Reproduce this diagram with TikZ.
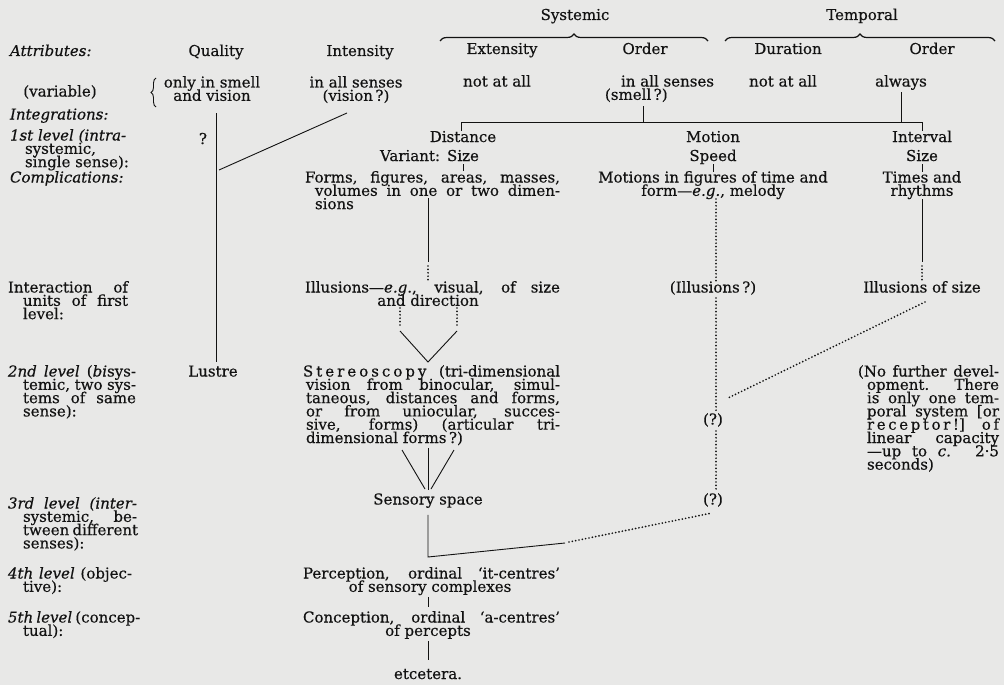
\documentclass[tikz,border=0pt]{standalone}
\usepackage{fontspec}
\setmainfont{DejaVu Serif}[FakeBold=0.4]
\usetikzlibrary{decorations.pathreplacing}
\definecolor{bgc}{RGB}{232,232,231}
\definecolor{ink}{RGB}{18,18,18}
\newcommand\blk[1]{\vtop{\lineskiplimit=-100pt\lineskip=0pt\baselineskip=13.3pt #1}}
\newcommand\Jl[2]{\hbox to #1{#2}}
\newcommand\Li[1]{\hbox{#1}}
\newcommand\Ctr[2]{\hbox to #1{\hfil #2\hfil}}
\begin{document}
\begin{tikzpicture}[x=1pt,y=-1pt,
  font=\fontsize{15}{13.3}\selectfont, inner sep=0pt, outer sep=0pt,
  every node/.style={text=ink},
  tc/.style={anchor=base},
  tl/.style={anchor=base west},
  tr/.style={anchor=base east},
  ln/.style={draw=ink,line width=0.9pt},
  dl/.style={draw=ink,line width=1.9pt,dash pattern=on 0pt off 3.4pt,line cap=round},
  brc/.style={draw=ink,line width=1.2pt,decorate,decoration={brace,amplitude=7pt}}]
\fill[bgc] (0,0) rectangle (1004,685);
\useasboundingbox (0,0) rectangle (1004,685);

% header braces
\node[tc] (systemic) at (575,20) {Systemic};
\node[tc] (temporal) at (862,20) {Temporal};
\draw[brc] (440,41) -- (708,41);
\draw[brc] (725,41) -- (995,41);

% attributes row
\node[tl] (attr) at (10,56) {\itshape Attributes:};
\node[tc] (quality) at (216,56) {Quality};
\node[tc] (intensity) at (360,56) {Intensity};
\node[tc] (extensity) at (502,54) {Extensity};
\node[tc] (order1) at (645,54) {Order};
\node[tc] (duration) at (788,54) {Duration};
\node[tc] (order2) at (932,54) {Order};

% variable row
\node[tc] (variable) at (60,96.5) {(variable)};
\draw[draw=ink,line width=0.9pt,decorate,decoration={brace,amplitude=5pt}] (156,107) -- (156,78);
\node[tc] (onlyin) at (212,87.5) {\blk{\Ctr{120pt}{only in smell}\Ctr{120pt}{and vision}}};
\node[tc] (allsenses) at (356,87.5) {\blk{\Ctr{120pt}{in all senses}\Ctr{120pt}{(vision\,?)}}};
\node[tc] (notatall1) at (497,86.5) {not at all};
\node[tl] (allsenses2) at (605,86.5) {\blk{\Li{\hskip16pt in all senses}\Li{(smell\,?)}}};
\node[tc] (notatall2) at (783,86.5) {not at all};
\node[tc] (always) at (901,86.5) {always};

% left labels
\node[tl] (integr) at (10,119.5) {\itshape Integrations:};
\node[tl] (lev1) at (10,140.5) {\blk{\Li{\itshape 1st level (intra-}\Li{\hskip15pt systemic,}\Li{\hskip15pt single sense):}}};
\node[tl] (compl) at (10,182.5) {\itshape Complications:};
\node[tl] (interact) at (8,292.5) {\blk{\Jl{120pt}{Interaction of}\Jl{120pt}{\hskip15pt units of first}\Li{\hskip15pt level:}}};
\node[tl] (lev2) at (8,376.5) {\blk{\Jl{128pt}{\itshape 2nd level \upshape(\itshape bi\upshape sys-}\Jl{128pt}{\hskip15pt temic, two sys-}\Jl{128pt}{\hskip15pt tems of same}\Li{\hskip15pt sense):}}};
\node[tl] (lev3) at (8,508.5) {\blk{\Jl{129pt}{\itshape 3rd level (inter-}\Jl{129pt}{\hskip15pt systemic, be-}\Jl{129pt}{\hskip15pt tween different}\Li{\hskip15pt senses):}}};
\node[tl] (lev4) at (8,578.5) {\blk{\Jl{124pt}{\itshape 4th level \upshape (objec-}\Li{\hskip15pt tive):}}};
\node[tl] (lev5) at (8,622.5) {\blk{\Jl{126pt}{\itshape 5th level \upshape (concep-}\Li{\hskip15pt tual):}}};

% first level
\node[tc] (distance) at (463,142) {Distance};
\node[tc] (motion) at (713,142) {Motion};
\node[tc] (interval) at (922,142) {Interval};
\node[tr] (variant) at (440,161) {Variant:};
\node[tc] (size1) at (463,161) {Size};
\node[tc] (speed) at (713,161) {Speed};
\node[tc] (size2) at (922,161) {Size};

% complications
\node[tl] (forms) at (305,182.5) {\blk{\Jl{255pt}{Forms, figures, areas, masses,}\Jl{255pt}{\hskip10pt volumes in one or two dimen-}\Li{\hskip10pt sions}}};
\node[tc] (motions) at (713,182.5) {\blk{\Ctr{260pt}{Motions in figures of time and}\Ctr{260pt}{form---\textit{e.g.}, melody}}};
\node[tc] (times) at (922,182.5) {\blk{\Ctr{100pt}{Times and}\Ctr{100pt}{rhythms}}};

% interaction
\node[tl] (illusions) at (305,292.5) {\blk{\Jl{255pt}{Illusions---\textit{e.g.}, visual, of size}\Ctr{246pt}{and direction}}};
\node[tc] (illq) at (713,292.5) {(Illusions\,?)};
\node[tc] (illsize) at (922,292.5) {Illusions of size};

% second level
\node[tc] (lustre) at (213,376.5) {Lustre};
\node[tl] (stereo) at (303,376.5) {\blk{%
\Jl{257pt}{S\kern3pt t\kern3pt e\kern3pt r\kern3pt e\kern3pt o\kern3pt s\kern3pt c\kern3pt o\kern3pt p\kern3pt y (tri-dimensional}%
\Jl{257pt}{\hskip3pt vision from binocular, simul-}%
\Jl{257pt}{\hskip3pt taneous, distances and forms,}%
\Jl{257pt}{\hskip3pt or from uniocular, succes-}%
\Jl{257pt}{\hskip3pt sive, forms) (articular tri-}%
\Li{\hskip3pt dimensional forms\,?)}}};
\node[tc] (q1) at (713,424.5) {(?)};
\node[tl] (nofurther) at (858,376.5) {\blk{%
\Jl{141pt}{(No further devel-}%
\Jl{141pt}{\hskip9pt opment. There}%
\Jl{141pt}{\hskip9pt is only one tem-}%
\Jl{141pt}{\hskip9pt poral system [or}%
\Jl{141pt}{\hskip9pt r\kern2.6pt e\kern2.6pt c\kern2.6pt e\kern2.6pt p\kern2.6pt t\kern2.6pt o\kern2.6pt r\kern2.6pt !] o\kern2.6pt f}%
\Jl{141pt}{\hskip9pt linear capacity}%
\Jl{141pt}{\hskip9pt ---up to \textit{c.} 2·5}%
\Li{\hskip9pt seconds)}}};

% third level
\node[tc] (sensory) at (428,504.5) {Sensory space};
\node[tc] (q2) at (713,504.5) {(?)};

% fourth / fifth
\node[tl] (percep) at (303,578.5) {\blk{\Jl{257pt}{Perception, ordinal ‘it-centres’}\Ctr{254pt}{of sensory complexes}}};
\node[tl] (concep) at (303,622.5) {\blk{\Jl{257pt}{Conception, ordinal ‘a-centres’}\Ctr{250pt}{of percepts}}};
\node[tc] (etc) at (428,679) {etcetera.};
\node[tc] (qmark) at (203,144) {?};

% ---- connectors ----
\coordinate (qtop) at (216,113);
\coordinate (qbot) at (216,362);
\draw[ln] (qtop) -- (qbot);
\coordinate (itop) at (347,113);
\coordinate (ibot) at (219,170);
\draw[ln] (itop) -- (ibot);

\coordinate (hl) at (461,122);
\coordinate (hr) at (922,122);
\draw[ln] (hl) -- (hr);
\draw[ln] (hl) -- (461,131);
\draw[ln] (hr) -- (922,131);
\draw[ln] (643,106) -- (643,122);
\draw[ln] (901,92) -- (901,122);

\draw[ln] (463,164) -- (463,171);
\draw[ln] (713,164) -- (713,172);
\draw[ln] (922,164) -- (922,172);

% distance column
\draw[ln] (428,198) -- (428,262);
\draw[dl] (428,266) -- (428,281);
\draw[dl] (400,308) -- (400,326);
\draw[dl] (457,308) -- (457,326);
\draw[ln] (400,331) -- (428,362) -- (457,331);
\draw[ln] (402,450) -- (425,489);
\draw[ln] (428,448) -- (428,490);
\draw[ln] (454,450) -- (431,489);
\coordinate (corner) at (428,557);
\coordinate (mid) at (565,543);
\draw[ln] (sensory.south) ++(0,7) -- (corner) -- (mid);
\draw[dl] (569,542) -- (712,513);
\draw[ln] (428,597) -- (428,607);
\draw[ln] (428,641) -- (428,660);

% motion column
\draw[dl] (716,199) -- (716,281);
\draw[dl] (716,298) -- (716,411);
\draw[dl] (716,431) -- (716,491);

% interval column
\draw[ln] (922,199) -- (922,262);
\draw[dl] (922,266) -- (922,281);
\draw[dl] (925,302) -- (728,398);
\end{tikzpicture}
\end{document}
